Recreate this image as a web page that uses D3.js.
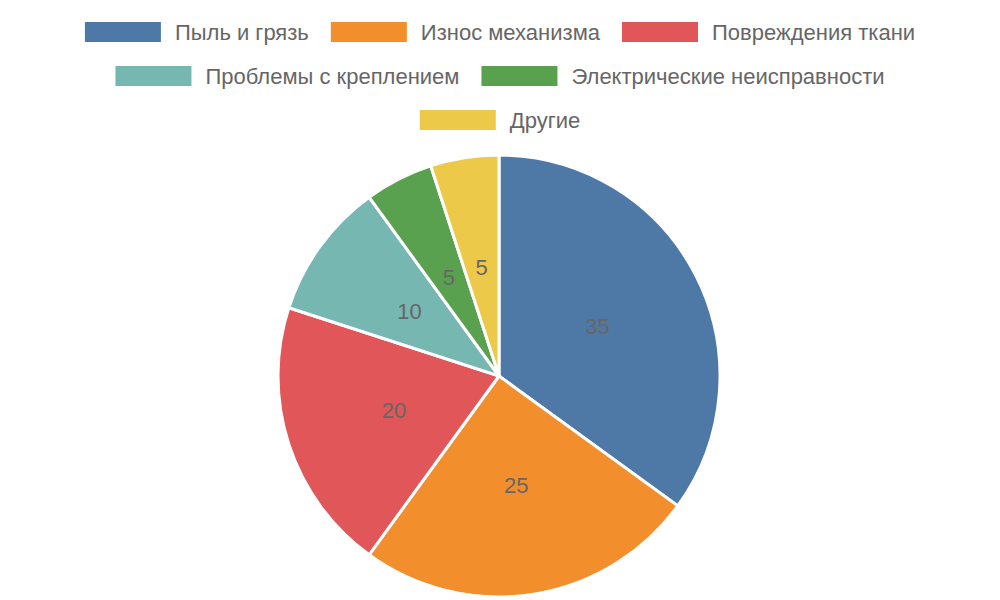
<!DOCTYPE html>
<html><head><meta charset="utf-8">
<script src="https://cdn.jsdelivr.net/npm/d3@7"></script>
<style>body{margin:0;background:#fff}text{font-family:"Liberation Sans",Arial,sans-serif}</style>
</head><body><svg id="chart" width="1000" height="600"></svg>
<script>
const categories = ["Пыль и грязь", "Износ механизма", "Повреждения ткани", "Проблемы с креплением", "Электрические неисправности", "Другие"];
const values = [35, 25, 20, 10, 5, 5];
const colors = ["#4e79a7", "#f28e2c", "#e15759", "#76b7b2", "#59a14f", "#edc949"];
const legendRows = [[0, 1, 2], [3, 4], [5]];

const svg = d3.select("#chart");
const cx = 499, cy = 376, r = 221;

const pie = d3.pie().sort(null).value(d => d)(values);
const arc = d3.arc().innerRadius(0).outerRadius(r);
const labelArc = d3.arc().innerRadius(r / 2).outerRadius(r / 2);

const g = svg.append("g").attr("transform", `translate(${cx},${cy})`);
g.selectAll("path").data(pie).enter().append("path")
  .attr("d", arc)
  .attr("fill", (d, i) => colors[i])
  .attr("stroke", "#fff")
  .attr("stroke-width", 3);

g.selectAll("text.val").data(pie).enter().append("text")
  .attr("class", "val")
  .attr("transform", d => `translate(${labelArc.centroid(d)})`)
  .attr("text-anchor", "middle")
  .attr("dy", "0.35em")
  .attr("font-size", 22)
  .attr("fill", "#666")
  .text(d => d.value);

// legend
const boxW = 76, boxH = 20, textGap = 14, itemGap = 22;
legendRows.forEach((row, ri) => {
  const y = 32 + ri * 44;
  const rowG = svg.append("g");
  let x = 0;
  row.forEach(i => {
    rowG.append("rect").attr("x", x).attr("y", y - boxH / 2)
      .attr("width", boxW).attr("height", boxH).attr("fill", colors[i]);
    const t = rowG.append("text").attr("x", x + boxW + textGap).attr("y", y)
      .attr("dy", "0.35em").attr("font-size", 22).attr("fill", "#666")
      .text(categories[i]);
    x += boxW + textGap + t.node().getComputedTextLength() + itemGap;
  });
  const w = x - itemGap;
  rowG.attr("transform", `translate(${(1000 - w) / 2},0)`);
});
</script></body></html>
